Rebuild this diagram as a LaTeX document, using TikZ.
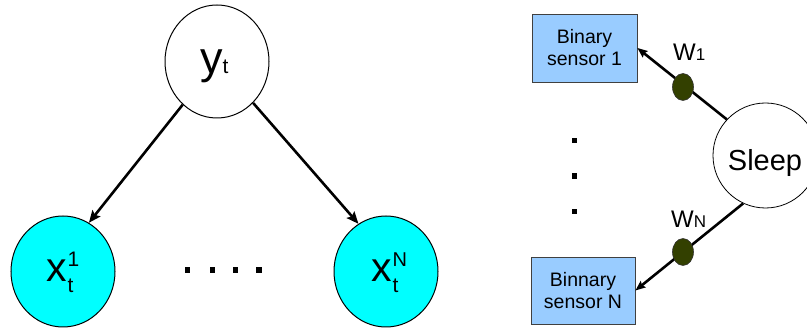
\documentclass[tikz,border=0pt]{standalone}
\usepackage{fontspec}
\setmainfont{Liberation Sans}
\usetikzlibrary{shapes.geometric,arrows.meta}
\definecolor{cyanfill}{RGB}{0,255,255}
\definecolor{boxfill}{RGB}{153,204,255}
\definecolor{boxline}{RGB}{64,64,64}
\definecolor{wdot}{RGB}{51,64,0}
\newcommand\fs[1]{\fontsize{#1}{#1}\selectfont}
\begin{document}
\begin{tikzpicture}[x=1pt,y=-1pt,
  var/.style={ellipse,draw,line width=1pt,inner sep=0pt},
  lbl/.style={inner sep=0pt,anchor=base west},
  sensor/.style={rectangle,draw=boxline,line width=0.8pt,fill=boxfill,align=center,inner sep=0pt,font=\fontsize{19.5}{22}\selectfont},
  weight/.style={ellipse,draw=black!80,line width=0.6pt,fill=wdot,minimum width=21pt,minimum height=27pt,inner sep=0pt},
  arr/.style={line width=2.6pt,-{Stealth[length=12pt,width=10pt,inset=2pt]}},
  sarr/.style={line width=2.6pt,-{Stealth[length=10pt,width=8pt,inset=1.5pt]}}]
\useasboundingbox (0,0) rectangle (807,328);
% left: Bayesian net
\node[var,minimum width=104pt,minimum height=113pt] (yt) at (217,61.5) {};
\node[var,fill=cyanfill,minimum width=104pt,minimum height=111pt] (x1) at (63,271.5) {};
\node[var,fill=cyanfill,minimum width=104pt,minimum height=111pt] (xN) at (386,271.5) {};
\node[lbl] (ytl) at (200,74) {\fs{45}y\fs{21}t};
\node[lbl] (x1l) at (46,282) {\fs{41}x\hspace{1pt}\rlap{\raisebox{15pt}{\fs{21}1}}\raisebox{-11pt}{\fs{21}t}};
\node[lbl] (xNl) at (371,282) {\fs{41}x\hspace{1pt}\rlap{\raisebox{15pt}{\fs{20}N}}\raisebox{-11pt}{\fs{21}t}};
\draw[arr] (yt) -- (x1.62);
\draw[arr] (yt) -- (xN.120);
\foreach \px in {187.5,212.5,235.5,259}
  \fill (\px-2.8,267.2) rectangle (\px+2.8,272.8);
% right: sleep model
\node[var,line width=0.8pt,minimum size=105pt] (sleep) at (765.5,155.5) {};
\node[lbl,anchor=base] (sl) at (765,171) {\fs{29}Sleep};
\node[sensor,minimum width=105pt,minimum height=68pt] (b1) at (584.5,48) {Binary\\sensor 1};
\node[sensor,minimum width=104pt,minimum height=67pt] (b2) at (583,290.5) {Binnary\\sensor N};
\draw[sarr] (sleep.137) -- (b1.east);
\draw[sarr] (sleep.245) -- (b2.east);
\node[weight] (w1d) at (683,87) {};
\node[weight] (wnd) at (683,252) {};
\node[lbl] (w1) at (673,61) {\fs{24}W\fs{17}1};
\node[lbl] (wn) at (671,228) {\fs{24}W\fs{17}N};
\foreach \py in {140.5,176,211.5}
  \fill (571.8,\py-2.8) rectangle (577.2,\py+2.8);
\end{tikzpicture}
\end{document}
